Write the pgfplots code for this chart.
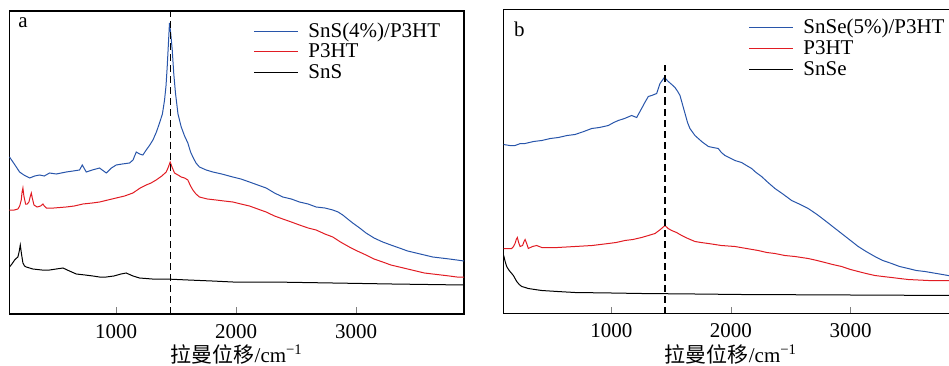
\documentclass[border=0pt]{standalone}
\usepackage{fontspec}
\setmainfont{Liberation Serif}
\newfontfamily\cjk{Noto Sans CJK SC}
\usepackage{pgfplots}
\pgfplotsset{compat=1.18}
\definecolor{cblue}{RGB}{40,85,170}
\definecolor{cred}{RGB}{225,28,35}
\newcommand\fs{\fontsize{10.5}{12}\selectfont}
\pgfplotsset{
 rs/.style={
  scale only axis, width=227.25pt,
  ytick=\empty, xtick={1000,2000,3000},
  xtick pos=bottom, tick align=inside, major tick length=3.5pt,
  /pgf/number format/assume math mode=true,
  /pgf/number format/1000 sep={},
  tick label style={font=\fs},
  xticklabel style={yshift=-1.5pt},
  xlabel={{\cjk 拉曼位移}/cm\textsuperscript{−1}},
  label style={font=\fs},
  xlabel style={yshift=3.5pt},
  axis line style={line width=0.6pt},
  every axis plot/.append style={line width=0.5pt},
 }}
\newcommand\legrow[5]{% axis, line x0, y below top, colour, text
  \draw[#4, line width=0.5pt] ([shift={(#2,-#3)}]#1.north west) -- ([shift={(#2+22pt,-#3)}]#1.north west);
  \node[anchor=base west, inner sep=0pt, font=\fs] at ([shift={(#2+27pt,-#3-2.7pt)}]#1.north west) {#5};}
\begin{document}
\begin{tikzpicture}
\begin{axis}[rs, name=A, at={(4.75pt,25.5pt)}, anchor=south west, height=151.5pt,
  xmin=110, xmax=3900, ymin=0, ymax=303]
\addplot[cblue] coordinates {
(110,157)(150,150)(194,142)(230,139)(278,136)(320,138)(361,139)(400,138)(444,141)(500,140)(583,142)(640,143)(694,144)(717,149)(750,142)(800,144)(861,146)(917,141)(960,146)(1000,149)(1050,150)(1111,151)(1140,154)(1167,162)(1195,160)(1222,159)(1250,164)(1280,169)(1306,174)(1335,182)(1361,191)(1385,200)(1403,214)(1415,228)(1425,247)(1435,270)(1444,291)(1455,280)(1467,264)(1480,240)(1494,221)(1515,200)(1542,187)(1570,178)(1597,171)(1620,162)(1639,157)(1665,151)(1694,147)(1750,144)(1806,142)(1880,140)(1972,137)(2040,135)(2111,132)(2180,129)(2250,126)(2320,121)(2389,117)(2460,115)(2528,112)(2600,110)(2667,107)(2740,106)(2806,104)(2850,102)(2889,99)(2930,95)(2972,91)(3030,86)(3083,81)(3150,76)(3222,72)(3290,69)(3361,66)(3430,63)(3500,61)(3570,59)(3639,57)(3710,56)(3778,55)(3840,54)(3900,53)};
\addplot[cred] coordinates {
(110,104)(150,104)(180,105)(195,108)(208,114)(215,122)(222,126)(230,118)(244,110)(258,110)(272,112)(282,117)(292,121)(300,116)(314,109)(340,107)(370,108)(389,110)(400,108)(417,106)(480,106)(583,107)(650,108)(722,110)(800,111)(861,112)(930,114)(1000,116)(1070,118)(1139,121)(1200,126)(1250,129)(1290,131)(1333,134)(1380,138)(1417,142)(1435,147)(1450,152)(1465,147)(1486,141)(1515,139)(1542,137)(1570,136)(1597,134)(1620,128)(1639,124)(1665,120)(1694,117)(1760,115)(1833,114)(1900,113)(1972,112)(2040,110)(2111,108)(2180,105)(2250,102)(2320,98)(2389,95)(2460,92)(2528,89)(2600,86)(2667,84)(2740,80)(2806,77)(2870,72)(2944,67)(3010,63)(3083,59)(3150,55)(3222,52)(3290,49)(3361,47)(3430,45)(3500,43)(3570,41)(3639,40)(3710,39)(3778,38)(3840,37)(3900,37)};
\addplot[black] coordinates {
(110,47)(130,50)(153,54)(170,56)(180,57)(190,62)(200,69)(210,60)(222,51)(235,48)(250,47)(305,45)(380,44)(444,44)(500,45)(556,46)(610,43)(667,40)(740,39)(806,38)(860,37)(917,37)(980,38)(1040,40)(1083,41)(1140,38)(1194,36)(1300,35)(1417,35)(1600,34)(1800,33)(1972,32)(2300,32)(2806,31)(3300,30)(3897,29)};
\addplot[black, line width=0.6pt, dash pattern=on 3.5pt off 2pt] coordinates {(1452,0)(1452,303)};
\node[anchor=base west, font=\fs, inner sep=0pt] at (rel axis cs:0.0187,1) [yshift=-8.5pt] {a};
\end{axis}
\legrow{A}{122.25pt}{10.5pt}{cblue}{SnS(4\%)/P3HT}
\legrow{A}{122.25pt}{20.5pt}{cred}{P3HT}
\legrow{A}{122.25pt}{31pt}{black}{SnS}
\begin{axis}[rs, name=B, at={(251.85pt,25.75pt)}, anchor=south west, height=152pt,
  xmin=100, xmax=3900, ymin=0, ymax=304]
\addplot[cblue] coordinates {
(100,169)(150,168)(195,168)(240,170)(279,170)(350,172)(418,173)(490,175)(557,176)(630,178)(696,179)(770,182)(836,185)(900,186)(975,188)(1020,191)(1058,193)(1110,195)(1170,198)(1212,196)(1253,205)(1280,211)(1309,217)(1337,218)(1379,220)(1407,230)(1443,236)(1476,232)(1505,229)(1532,226)(1555,222)(1574,218)(1595,209)(1616,200)(1637,191)(1657,185)(1699,178)(1755,172)(1811,167)(1850,166)(1894,165)(1920,161)(1950,158)(2000,155)(2033,153)(2089,151)(2130,148)(2173,145)(2210,141)(2256,137)(2310,131)(2368,125)(2440,119)(2507,113)(2580,109)(2646,105)(2720,99)(2786,93)(2850,87)(2925,80)(3000,73)(3064,67)(3130,62)(3203,57)(3270,53)(3343,50)(3410,47)(3482,45)(3550,43)(3621,42)(3720,40)(3816,38)(3900,37)};
\addplot[cred] coordinates {
(100,65)(140,65)(167,65)(182,67)(195,70)(205,74)(214,76)(225,71)(237,67)(258,68)(270,72)(279,74)(292,70)(306,65)(340,67)(376,68)(418,66)(550,66)(696,67)(840,68)(975,70)(1040,71)(1114,73)(1180,74)(1253,76)(1310,78)(1365,80)(1410,84)(1448,88)(1475,85)(1504,83)(1545,81)(1588,78)(1640,75)(1699,72)(1750,71)(1811,70)(1920,68)(2033,67)(2130,65)(2228,63)(2300,61)(2368,60)(2450,58)(2535,57)(2590,56)(2646,55)(2720,53)(2786,51)(2850,49)(2925,47)(3000,44)(3064,42)(3130,40)(3203,38)(3270,37)(3343,36)(3410,35)(3482,34)(3650,33)(3816,33)(3900,32)};
\addplot[black] coordinates {
(100,58)(112,52)(125,47)(140,44)(153,42)(167,40)(181,38)(195,35)(209,32)(230,29)(251,27)(280,26)(306,25)(360,24)(418,23)(550,22)(696,21)(1000,20.5)(1253,20)(1700,19.5)(2089,19)(3000,18.5)(3900,18)};
\addplot[black, line width=0.6pt, dash pattern=on 3.5pt off 2pt] coordinates {(1448,0)(1448,248)};
\node[anchor=base west, font=\fs, inner sep=0pt] at (rel axis cs:0.022,1) [yshift=-13.25pt] {b};
\end{axis}
\legrow{B}{122.65pt}{9.25pt}{cblue}{SnSe(5\%)/P3HT}
\legrow{B}{122.65pt}{19.75pt}{cred}{P3HT}
\legrow{B}{122.65pt}{30.25pt}{black}{SnSe}
\pgfresetboundingbox
\useasboundingbox (0,0) rectangle (474.5pt,182.5pt);
\end{tikzpicture}
\end{document}
